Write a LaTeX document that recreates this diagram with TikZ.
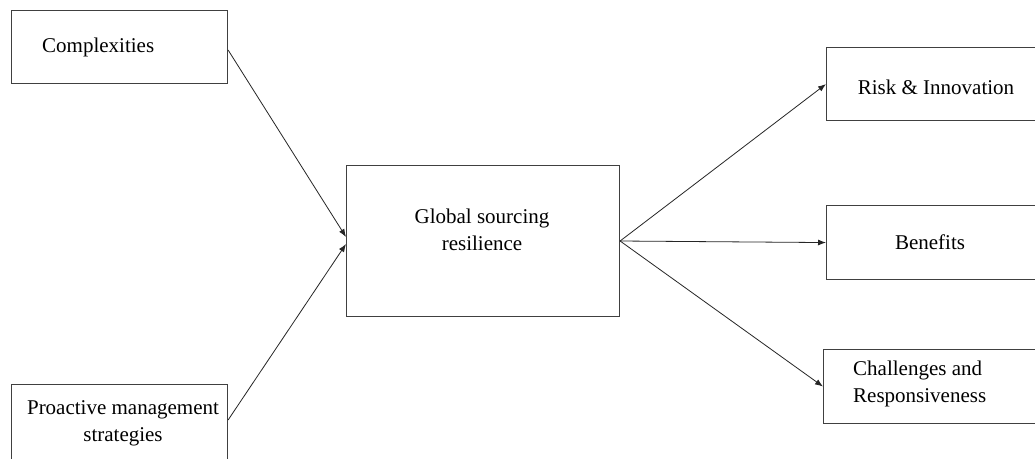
\documentclass[tikz,border=0pt]{standalone}
\usepackage{fontspec}
\setmainfont{Liberation Serif}
\newfontfamily\boxfont{Liberation Serif}
\usetikzlibrary{arrows.meta,calc}
\begin{document}
\begin{tikzpicture}[x=1pt,y=-1pt,
  box/.style={draw=black!75,line width=1.1pt,rectangle,inner sep=0pt},
  lbl/.style={font=\boxfont\fontsize{21}{27}\selectfont,inner sep=0pt},
  link/.style={draw=black!85,line width=0.8pt,-{Latex[length=8pt,width=6pt]}}]
\clip (0,0) rectangle (1035,458);
\fill[white] (0,0) rectangle (1035,458);

% left-hand inputs
\node[box,anchor=north west,minimum width=216,minimum height=73] (comp) at (11,10) {};
\node[lbl,anchor=west] (comptxt) at (42,47) {Complexities};

\node[box,anchor=north west,minimum width=216,minimum height=110] (proact) at (11,384) {};
\node[lbl,align=center] (proacttxt) at (123,423) {Proactive management\\strategies};

% central concept
\node[box,anchor=north west,minimum width=273,minimum height=151] (glob) at (346,165) {};
\node[lbl,align=center] (globtxt) at (482,230) {Global sourcing\\resilience};

% right-hand outcomes
\node[box,anchor=north west,minimum width=230,minimum height=73] (risk) at (826,47) {};
\node[lbl] (risktxt) at (936,87) {Risk \& Innovation};

\node[box,anchor=north west,minimum width=230,minimum height=74] (ben) at (826,205) {};
\node[lbl] (bentxt) at (930,242) {Benefits};

\node[box,anchor=north west,minimum width=240,minimum height=74] (chal) at (823,349) {};
\node[lbl,align=left,anchor=west] (chaltxt) at (853,384) {Challenges and\\Responsiveness};

% connection points
\coordinate (cOut) at ($(comp.north east)+(0,40)$);
\coordinate (pOut) at ($(proact.north east)+(0,36)$);
\coordinate (gInA) at ($(glob.north west)+(0,72)$);
\coordinate (gInB) at ($(glob.north west)+(0,79)$);
\coordinate (gOut) at ($(glob.north east)+(0,76)$);

\draw[link] (cOut) -- (gInA);
\draw[link] (pOut) -- (gInB);
\draw[link] (gOut) -- (risk.west);
\draw[link] (gOut) -- (ben.west);
\draw[link] (gOut) -- (chal.west);
\end{tikzpicture}
\end{document}
